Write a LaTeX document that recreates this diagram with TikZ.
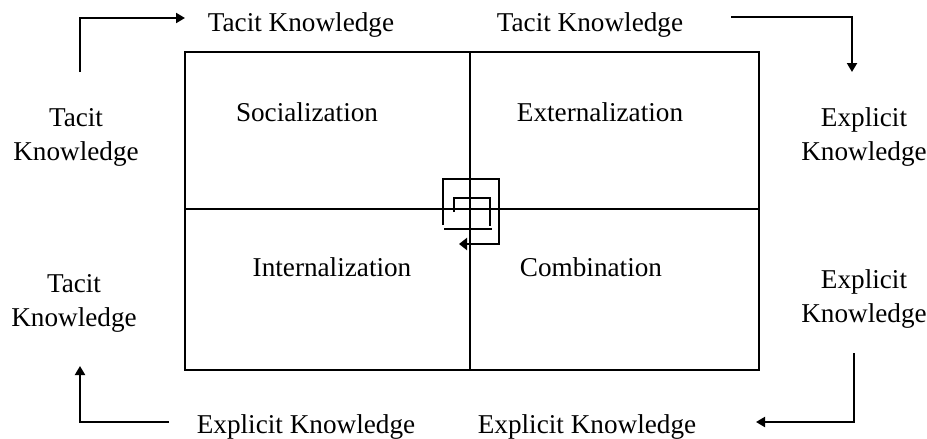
\documentclass[tikz,border=0pt]{standalone}
\usepackage{fontspec}
\setmainfont{Liberation Serif}
\usetikzlibrary{arrows.meta}

\tikzset{
	lbl/.style={font=\fontsize{13.6}{17}\selectfont, align=center, inner sep=0pt},
	flow/.style={line width=1pt, -{Triangle[length=4.5pt, width=5pt]}},
	grid/.style={line width=1pt}
}

\begin{document}
\begin{tikzpicture}[x=0.5pt, y=-0.5pt]
		%%%%% START %%%%%
		\useasboundingbox (0, 0) rectangle (927, 439);
		
		% matrix
		\coordinate (nw) at (185, 52);
		\coordinate (se) at (759, 370);
		\draw[grid] (nw) rectangle (se);
		\draw[grid] (470, 52) -- (470, 370);
		\draw[grid] (185, 209) -- (759, 209);
		
		\node[lbl] (soc) at (307, 112) {Socialization};
		\node[lbl] (ext) at (600, 112) {Externalization};
		\node[lbl] (int) at (332, 267) {Internalization};
		\node[lbl] (com) at (591, 267) {Combination};
		
		% spiral
		\draw[grid] (454, 212) -- (454, 198) -- (490, 198) -- (490, 226);
		\draw[grid] (444, 229) -- (492, 229);
		\draw[grid, -{Triangle[length=4pt, width=6pt]}] (443, 225) -- (443, 179) -- (499, 179) -- (499, 244) -- (459, 244);
		
		% outer labels
		\node[lbl] (tk1) at (301, 25) {Tacit Knowledge};
		\node[lbl] (tk2) at (590, 25) {Tacit Knowledge};
		\node[lbl] (ek1) at (864, 137) {Explicit\\Knowledge};
		\node[lbl] (ek2) at (864, 299) {Explicit\\Knowledge};
		\node[lbl] (ek3) at (306, 427) {Explicit Knowledge};
		\node[lbl] (ek4) at (587, 427) {Explicit Knowledge};
		\node[lbl] (tk3) at (76, 137) {Tacit\\Knowledge};
		\node[lbl] (tk4) at (74, 303) {Tacit\\Knowledge};
		
		% arrows
		\coordinate (a1) at (80, 72);
		\coordinate (b1) at (185, 18);
		\draw[flow] (a1) |- (b1);
		
		\coordinate (a2) at (731, 17);
		\coordinate (b2) at (852, 72);
		\draw[flow] (a2) -| (b2);
		
		\coordinate (a3) at (854, 353);
		\coordinate (b3) at (756, 422);
		\draw[flow] (a3) |- (b3);
		
		\coordinate (a4) at (169, 422);
		\coordinate (b4) at (80, 366);
		\draw[flow] (a4) -| (b4);
		%%%%% END %%%%%
	\end{tikzpicture}
\end{document}
